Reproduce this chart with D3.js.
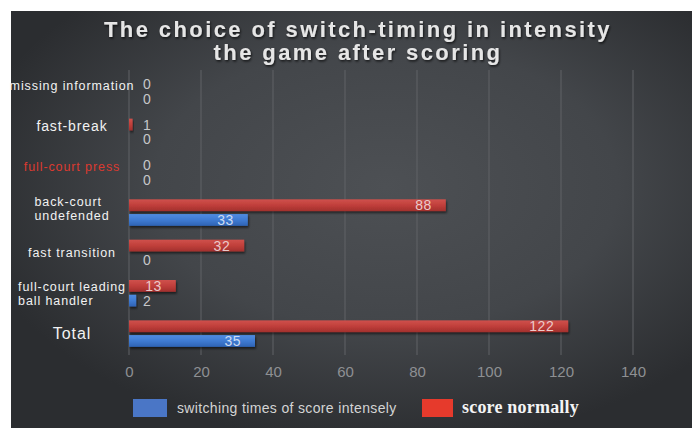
<!DOCTYPE html>
<html>
<head>
<meta charset="utf-8">
<script src="https://cdn.jsdelivr.net/npm/d3@7/dist/d3.min.js"></script>
<style>
  html, body { margin: 0; padding: 0; background: #ffffff; }
  svg { display: block; }
</style>
</head>
<body>
<svg id="chart" width="692" height="428"></svg>
<script>
// Categories, top to bottom ("\n" splits a label over two lines)
const categories = [
  "missing information",
  "fast-break",
  "full-court press",
  "back-court\nundefended",
  "fast transition",
  "full-court leading\nball handler",
  "Total"
];
// Series values, one per category
const scoreNormally  = [0, 1, 0, 88, 32, 13, 122];
const switchIntense  = [0, 0, 0, 33, 0, 2, 35];
const seriesNames    = ["score normally", "switching times of score intensely"];
const xTicks         = [0, 20, 40, 60, 80, 100, 120, 140];
const titleLines     = ["The choice of switch-timing in intensity", "the game after scoring"];

const W = 692, H = 428;
const svg = d3.select("#chart");
const defs = svg.append("defs");

// Panel background: dark slate with a lighter centre
const bg = defs.append("radialGradient").attr("id", "bg")
  .attr("cx", "0.55").attr("cy", "0.42").attr("r", "0.62");
bg.append("stop").attr("offset", "0").attr("stop-color", "#4d5054");
bg.append("stop").attr("offset", "0.55").attr("stop-color", "#43464a");
bg.append("stop").attr("offset", "1").attr("stop-color", "#2b2d30");

const redGrad = defs.append("linearGradient").attr("id", "redGrad").attr("x1", 0).attr("y1", 0).attr("x2", 0).attr("y2", 1);
redGrad.append("stop").attr("offset", "0").attr("stop-color", "#d0514c");
redGrad.append("stop").attr("offset", "0.5").attr("stop-color", "#c03f3b");
redGrad.append("stop").attr("offset", "1").attr("stop-color", "#a2302d");
const blueGrad = defs.append("linearGradient").attr("id", "blueGrad").attr("x1", 0).attr("y1", 0).attr("x2", 0).attr("y2", 1);
blueGrad.append("stop").attr("offset", "0").attr("stop-color", "#4f8be0");
blueGrad.append("stop").attr("offset", "0.5").attr("stop-color", "#3f7bd2");
blueGrad.append("stop").attr("offset", "1").attr("stop-color", "#2f63b4");

const shadow = defs.append("filter").attr("id", "shadow")
  .attr("x", "-10%").attr("y", "-40%").attr("width", "130%").attr("height", "200%");
shadow.append("feDropShadow").attr("dx", 1).attr("dy", 2).attr("stdDeviation", 1.2)
  .attr("flood-color", "#000").attr("flood-opacity", 0.55);
const textShadow = defs.append("filter").attr("id", "textShadow")
  .attr("x", "-5%").attr("y", "-30%").attr("width", "110%").attr("height", "170%");
textShadow.append("feDropShadow").attr("dx", 1).attr("dy", 1.5).attr("stdDeviation", 1)
  .attr("flood-color", "#000").attr("flood-opacity", 0.7);

svg.append("rect").attr("x", 11).attr("y", 11).attr("width", W - 11).attr("height", H - 11)
  .attr("fill", "url(#bg)");

// Title
svg.append("g").selectAll("text").data(titleLines).join("text")
  .attr("x", 358).attr("y", (d, i) => 37 + i * 23)
  .attr("text-anchor", "middle")
  .attr("font-family", "'Liberation Sans', Arial, sans-serif")
  .attr("font-weight", "bold").attr("font-size", 22)
  .attr("letter-spacing", 2.4)
  .attr("fill", "#e6e6e6")
  .attr("filter", "url(#textShadow)")
  .text(d => d);

// Scales
const x = d3.scaleLinear().domain([0, 140]).range([129, 633]);
const y = d3.scaleBand().domain(categories).range([71.3, 353.7]);
const sub = d3.scaleBand().domain(seriesNames).range([7, 33.5]).paddingInner(0.2);

// Vertical grid lines
svg.append("g").selectAll("line").data(xTicks).join("line")
  .attr("x1", d => x(d)).attr("x2", d => x(d))
  .attr("y1", 70).attr("y2", 355)
  .attr("stroke", "#606266").attr("stroke-width", 1);

// X axis tick labels
const xAxis = d3.axisBottom(x).tickValues(xTicks).tickSize(0).tickPadding(0);
const gx = svg.append("g").attr("transform", "translate(0,377)").call(xAxis);
gx.select(".domain").remove();
gx.selectAll("text")
  .attr("font-family", "'Liberation Sans', Arial, sans-serif")
  .attr("font-size", 15).attr("fill", "#8e9093").attr("dy", 0);

// Bars
const rows = categories.map((c, i) => ({ cat: c, vals: [
  { s: seriesNames[0], v: scoreNormally[i] },
  { s: seriesNames[1], v: switchIntense[i] }
]}));
const fills = { [seriesNames[0]]: "url(#redGrad)", [seriesNames[1]]: "url(#blueGrad)" };
const inside = { [seriesNames[0]]: "#eccaca", [seriesNames[1]]: "#cddcf2" };

const rowG = svg.append("g").selectAll("g").data(rows).join("g")
  .attr("transform", d => `translate(0,${y(d.cat)})`);

rowG.selectAll("rect").data(d => d.vals.filter(e => e.v > 0)).join("rect")
  .attr("x", x(0))
  .attr("y", d => sub(d.s))
  .attr("width", d => x(d.v) - x(0))
  .attr("height", sub.bandwidth())
  .attr("fill", d => fills[d.s])
  .attr("filter", "url(#shadow)");

rowG.selectAll("text.val").data(d => d.vals).join("text")
  .attr("class", "val")
  .attr("x", d => (x(d.v) - x(0) > 30) ? x(d.v) - 14 : x(0) + 14)
  .attr("y", d => sub(d.s) + sub.bandwidth() / 2)
  .attr("dy", "0.36em")
  .attr("text-anchor", d => (x(d.v) - x(0) > 30) ? "end" : "start")
  .attr("font-family", "'Liberation Sans', Arial, sans-serif")
  .attr("font-size", 14).attr("letter-spacing", 0.5)
  .attr("fill", d => (x(d.v) - x(0) > 30) ? inside[d.s] : "#c6c7c9")
  .text(d => d.v);

// Category labels
const labelShift = { "missing information": -6, "fast-break": -6, "full-court press": -6,
  "back-court\nundefended": -4, "fast transition": -1, "Total": -1 };
const labelG = svg.append("g")
  .attr("font-family", "'Liberation Sans', Arial, sans-serif")
  .attr("letter-spacing", 0.9);
categories.forEach(c => {
  const lines = c.split("\n");
  const cy = y(c) + y.bandwidth() / 2 + 0.5 + (labelShift[c] || 0);
  const size = c === "Total" ? 16 : (c === "fast-break" ? 14 : 12.5);
  const t = labelG.append("text")
    .attr("font-size", size)
    .attr("fill", c === "full-court press" ? "#dc3a30" : "#f2f2f2");
  lines.forEach((ln, k) => {
    t.append("tspan").attr("x", 72)
      .attr("y", cy + (k - (lines.length - 1) / 2) * 14)
      .attr("dy", "0.35em").text(ln);
  });
  if (lines.length > 1) {
    // multi-line labels: left-aligned block centred on the label column
    const w = t.node().getBBox().width;
    t.selectAll("tspan").attr("x", 72 - w / 2);
  } else {
    t.attr("text-anchor", "middle");
  }
});

// Legend
const legend = svg.append("g");
legend.append("rect").attr("x", 133).attr("y", 399).attr("width", 34).attr("height", 18).attr("fill", "#4a76c6");
legend.append("text").attr("x", 177).attr("y", 413)
  .attr("font-family", "'Liberation Sans', Arial, sans-serif")
  .attr("font-size", 14).attr("letter-spacing", 0.35).attr("fill", "#d4d4d4")
  .text(seriesNames[1]);
legend.append("rect").attr("x", 422).attr("y", 399).attr("width", 31).attr("height", 18).attr("fill", "#e63a2c");
legend.append("text").attr("x", 462).attr("y", 413)
  .attr("font-family", "'Liberation Serif', 'Times New Roman', serif")
  .attr("font-size", 18).attr("font-weight", "bold").attr("letter-spacing", 0.2).attr("fill", "#f4f4f4")
  .text(seriesNames[0]);
</script>
</body>
</html>
